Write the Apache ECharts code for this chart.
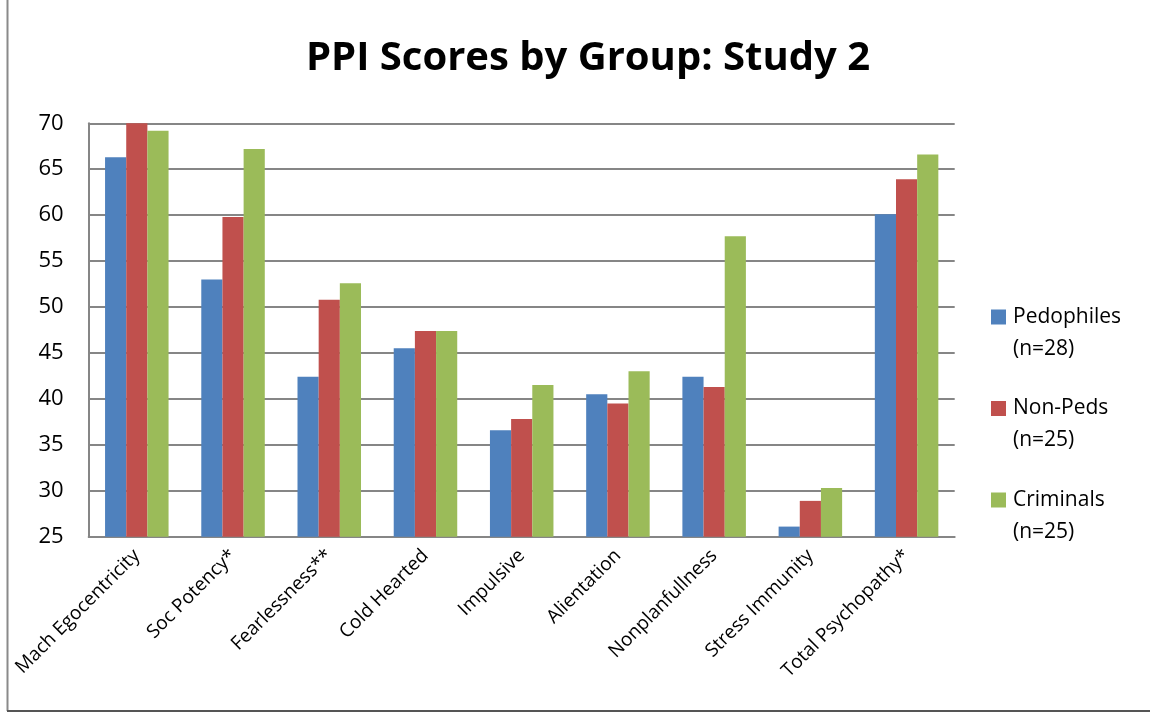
<!DOCTYPE html>
<html>
<head>
<meta charset="utf-8">
<script src="https://cdn.jsdelivr.net/npm/echarts@6/dist/echarts.min.js"></script>
<style>
html,body{margin:0;padding:0;background:#fff;}
#chart{width:1150px;height:713px;}
</style>
</head>
<body>
<div id="chart"></div>
<script>
const categories = ['Mach Egocentricity','Soc Potency*','Fearlessness**','Cold Hearted','Impulsive','Alientation','Nonplanfullness','Stress Immunity','Total Psychopathy*'];
const groupNames = ['Pedophiles','Non-Peds','Criminals'];
const groupSizes = ['(n=28)','(n=25)','(n=25)'];
const pedophiles = [66.3, 53.0, 42.4, 45.5, 36.6, 40.5, 42.4, 26.1, 60.1];
const nonPeds    = [70.0, 59.8, 50.8, 47.4, 37.8, 39.5, 41.3, 28.9, 63.9];
const criminals  = [69.2, 67.2, 52.6, 47.4, 41.5, 43.0, 57.7, 30.3, 66.6];
const colors = ['#4F81BD','#C0504D','#9BBB59'];
const seriesValues = [pedophiles, nonPeds, criminals];

const FONT = 'Open Sans';
const chart = echarts.init(document.getElementById('chart'), null, {renderer:'canvas'});
chart.setOption({
  backgroundColor:'#ffffff',
  animation:false,
  title:{
    text:'PPI Scores by Group: Study 2',
    left:583, top:34, textAlign:'center',
    textStyle:{fontFamily:FONT, fontWeight:'bold', fontSize:40, color:'#000'}
  },
  legend:{
    orient:'vertical',
    left:986, top:264,
    itemWidth:15, itemHeight:15, itemGap:-4.5,
    selectedMode:false,
    icon:'rect',
    data:groupNames,
    formatter:function(name){
      const i = groupNames.indexOf(name);
      return '\n' + name + '\n' + groupSizes[i];
    },
    textStyle:{fontFamily:FONT, fontSize:21, lineHeight:32, color:'#000', padding:[0,0,0,2]}
  },
  grid:{left:88.7, right:195.3, top:123.3, bottom:176.3},
  xAxis:{
    type:'category',
    data:categories,
    axisLine:{lineStyle:{color:'#868686', width:2}},
    axisTick:{show:false},
    axisLabel:{rotate:45, interval:0, margin:16, fontFamily:FONT, fontSize:19, color:'#000'}
  },
  yAxis:{
    type:'value', min:25, max:70, interval:5,
    axisLine:{show:true, lineStyle:{color:'#868686', width:2}},
    axisTick:{show:false},
    splitLine:{lineStyle:{color:'#868686', width:2}},
    axisLabel:{margin:25, fontFamily:FONT, fontSize:22, color:'#000'}
  },
  series: groupNames.map((n,i)=>({
    name:n, type:'bar', data:seriesValues[i],
    itemStyle:{color:colors[i]},
    barGap:'0%', barCategoryGap:'34%'
  })),
  graphic:[
    {type:'line', shape:{x1:7.5,y1:0,x2:7.5,y2:711}, style:{stroke:'#8a8a8a', lineWidth:2}},
    {type:'line', shape:{x1:7,y1:711,x2:1150,y2:711}, style:{stroke:'#555', lineWidth:2}}
  ]
});
</script>
</body>
</html>
